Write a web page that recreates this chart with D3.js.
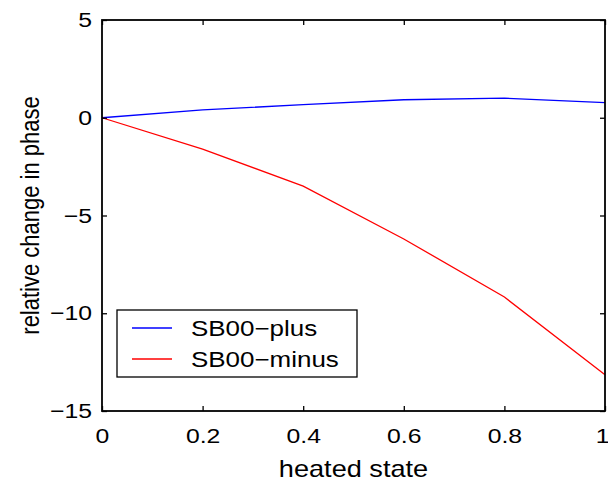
<!DOCTYPE html>
<html><head><meta charset="utf-8">
<script src="https://cdn.jsdelivr.net/npm/d3@7"></script>
<style>body{margin:0;background:#fff;}svg{display:block;font-family:"Liberation Sans",Arial,Helvetica,sans-serif;}</style>
</head><body>
<svg id="c" width="608" height="484"></svg>
<script>
const xValues = [0, 0.2, 0.4, 0.6, 0.8, 1];
const plusValues = [0, 0.4, 0.67, 0.92, 1.0, 0.77];
const minusValues = [0, -1.6, -3.5, -6.2, -9.17, -13.15];
const seriesNames = ["SB00\u2212plus", "SB00\u2212minus"];
const seriesColors = ["#0000ff", "#ff0000"];
const xTicks = [0, 0.2, 0.4, 0.6, 0.8, 1];
const yTicks = [5, 0, -5, -10, -15];

const SX = 1.18; // horizontal stretch of the glyphs in the reference
const svg = d3.select("#c");
const L = 102, R = 605, T = 20, B = 411;
const x = d3.scaleLinear().domain([0, 1]).range([L, R]);
const y = d3.scaleLinear().domain([-15, 5]).range([B, T]);
const fmt = d => (d < 0 ? "\u2212" + Math.abs(d) : String(d));

const line = d3.line().x((d, i) => x(xValues[i])).y(d => y(d));
[plusValues, minusValues].forEach((vals, k) => {
  svg.append("path").attr("d", line(vals)).attr("fill", "none")
    .attr("stroke", seriesColors[k]).attr("stroke-width", 1.3);
});

// axes
const tickLen = 5;
const gB = svg.append("g").attr("transform", `translate(0,${B})`)
  .call(d3.axisBottom(x).tickValues(xTicks).tickSize(-tickLen).tickPadding(17).tickFormat(d => String(d)));
const gT = svg.append("g").attr("transform", `translate(0,${T})`)
  .call(d3.axisTop(x).tickValues(xTicks).tickSize(-tickLen).tickFormat(""));
const gL = svg.append("g").attr("transform", `translate(${L},0)`)
  .call(d3.axisLeft(y).tickValues(yTicks).tickSize(-tickLen).tickPadding(10).tickFormat(fmt));
const gR = svg.append("g").attr("transform", `translate(${R},0)`)
  .call(d3.axisRight(y).tickValues(yTicks).tickSize(-tickLen).tickFormat(""));
[gB, gT, gL, gR].forEach(g => {
  g.select(".domain").remove();
  g.selectAll(".tick line").attr("stroke", "#000").attr("stroke-width", 1.3);
  g.selectAll("text").attr("font-size", 21).attr("fill", "#000")
    .attr("font-family", "Liberation Sans, Arial, sans-serif")
    .each(function () {
      const t = d3.select(this);
      const xx = +t.attr("x") || 0;
      t.attr("x", xx / SX).attr("transform", `scale(${SX},1)`);
    });
});
// keep the "1" label inside the picture
gB.selectAll(".tick").filter(d => d === 1).select("text").attr("text-anchor", "end").attr("x", 4 / SX);
svg.append("rect").attr("x", L).attr("y", T).attr("width", R - L).attr("height", B - T)
  .attr("fill", "none").attr("stroke", "#000").attr("stroke-width", 1.8);

// labels
svg.append("text").attr("transform", `translate(${(L + R) / 2},477) scale(${SX},1)`)
  .attr("text-anchor", "middle").attr("font-size", 23).text("heated state");
svg.append("text").attr("transform", `translate(39,${(T + B) / 2}) rotate(-90) scale(1,${SX})`)
  .attr("text-anchor", "middle").attr("font-size", 22).text("relative change in phase");

// legend
const lg = svg.append("g");
lg.append("rect").attr("x", 117).attr("y", 310).attr("width", 240).attr("height", 67)
  .attr("fill", "#fff").attr("stroke", "#000").attr("stroke-width", 1.3);
seriesNames.forEach((n, k) => {
  const yy = 328 + k * 31;
  lg.append("line").attr("x1", 132).attr("x2", 172).attr("y1", yy).attr("y2", yy)
    .attr("stroke", seriesColors[k]).attr("stroke-width", 1.3);
  lg.append("text").attr("transform", `translate(191,${yy + 8}) scale(${SX},1)`)
    .attr("font-size", 22).text(n);
});
</script>
</body></html>
